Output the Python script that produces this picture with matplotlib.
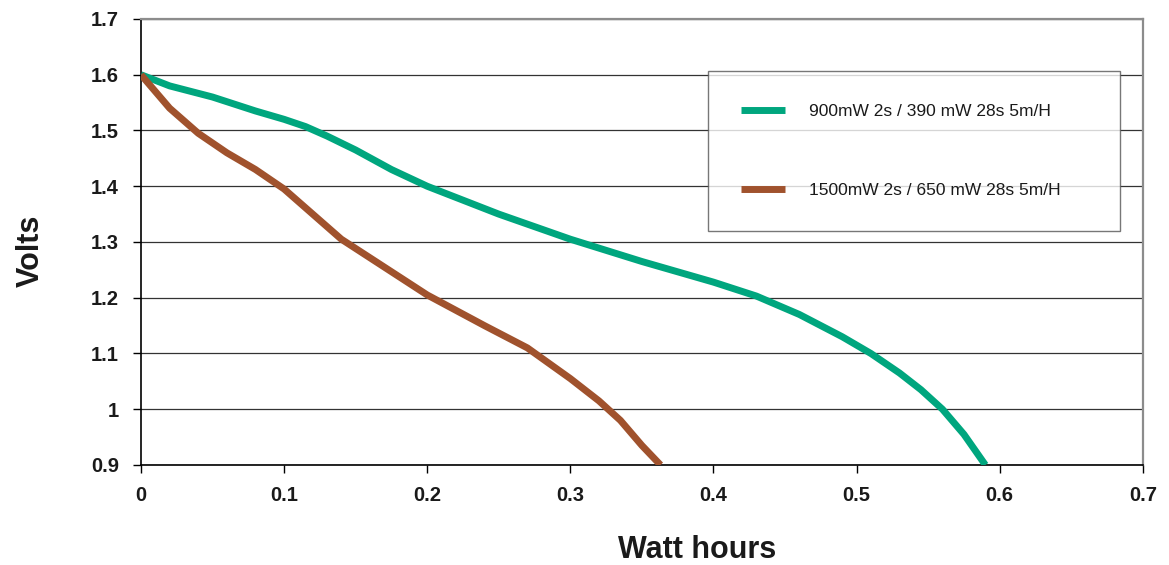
import matplotlib.pyplot as plt
import numpy as np

plt.rcParams['font.family'] = ['Liberation Sans', 'DejaVu Sans']

# 900mW 2s / 390 mW 28s
green_wh = [0.0, 0.02, 0.05, 0.08, 0.10, 0.115, 0.13, 0.15, 0.175, 0.20, 0.25, 0.30,
            0.35, 0.40, 0.43, 0.46, 0.49, 0.51, 0.53, 0.545, 0.56, 0.575, 0.59]
green_v = [1.60, 1.58, 1.56, 1.535, 1.52, 1.507, 1.49, 1.465, 1.43, 1.40, 1.35, 1.305,
           1.265, 1.228, 1.203, 1.17, 1.13, 1.10, 1.065, 1.035, 1.0, 0.955, 0.90]

# 1500mW 2s / 650 mW 28s
brown_wh = [0.0, 0.01, 0.02, 0.04, 0.06, 0.08, 0.10, 0.12, 0.14, 0.17, 0.20,
            0.24, 0.27, 0.30, 0.32, 0.335, 0.35, 0.363]
brown_v = [1.60, 1.57, 1.54, 1.495, 1.46, 1.43, 1.395, 1.35, 1.305, 1.255, 1.205,
           1.15, 1.11, 1.055, 1.015, 0.98, 0.935, 0.90]

labels = ['900mW 2s / 390 mW 28s 5m/H', '1500mW 2s / 650 mW 28s 5m/H']
colors = ['#00A67E', '#A0522D']

fig = plt.figure(figsize=(11.69, 5.65), dpi=100)
ax = fig.add_axes([0.1206, 0.177, 0.857, 0.7894])

ax.plot(green_wh, green_v, color=colors[0], linewidth=5, solid_capstyle='butt',
        solid_joinstyle='round', label=labels[0], zorder=3)
ax.plot(brown_wh, brown_v, color=colors[1], linewidth=5, solid_capstyle='butt',
        solid_joinstyle='round', label=labels[1], zorder=3)

ax.set_xlim(0, 0.7)
ax.set_ylim(0.9, 1.7)
ax.set_xticks(np.arange(0, 0.71, 0.1))
ax.set_xticklabels(['0', '0.1', '0.2', '0.3', '0.4', '0.5', '0.6', '0.7'])
ax.set_yticks(np.arange(0.9, 1.71, 0.1))
ax.set_yticklabels(['0.9', '1', '1.1', '1.2', '1.3', '1.4', '1.5', '1.6', '1.7'])
for t in ax.get_xticklabels() + ax.get_yticklabels():
    t.set_fontweight('bold')
ax.tick_params(axis='both', direction='out', length=6, width=1, labelsize=14.5,
               color='black', labelcolor='#1a1a1a')
ax.tick_params(axis='x', pad=9)
ax.tick_params(axis='y', pad=10)

ax.grid(axis='y', color='#333333', linewidth=0.9)
ax.set_axisbelow(True)
for s in ['left', 'bottom']:
    ax.spines[s].set_color('black')
    ax.spines[s].set_linewidth(1.2)
for s in ['top', 'right']:
    ax.spines[s].set_color('#8c8c8c')
    ax.spines[s].set_linewidth(1.6)

ax.set_xlabel('Watt hours', fontsize=22, fontweight='bold', color='#1a1a1a')
ax.set_ylabel('Volts', fontsize=22, fontweight='bold', color='#1a1a1a')
ax.xaxis.set_label_coords(0.555, -0.19)
ax.xaxis.label.set_va('center')
ax.yaxis.set_label_coords(-0.11, 0.48)
ax.yaxis.label.set_va('center')

leg = ax.legend(loc='upper left', bbox_to_anchor=(0.5664, 0.525, 0.4112, 0.358),
                mode='expand', fontsize=12.5, frameon=True, fancybox=False,
                edgecolor='#555555', handlelength=2.5, handletextpad=1.4,
                labelspacing=3.65, borderpad=1.9, borderaxespad=0)
leg.get_frame().set_linewidth(1.0)
for line in leg.get_lines():
    line.set_linewidth(5)
for t in leg.get_texts():
    t.set_color('#1a1a1a')

fig.savefig('out.png', dpi=100)
